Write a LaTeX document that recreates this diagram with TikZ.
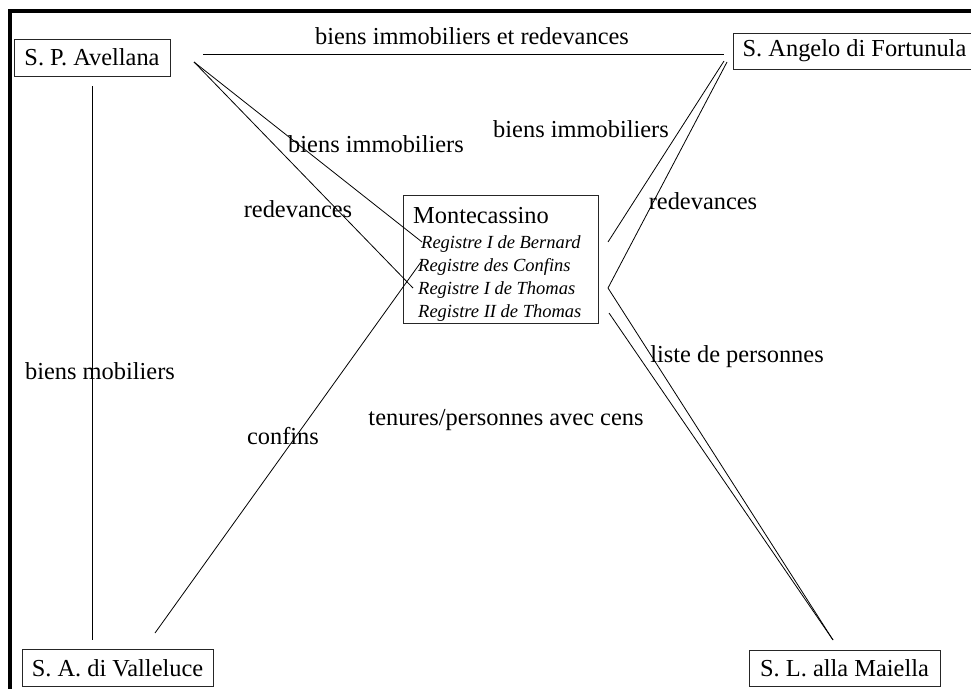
\documentclass[tikz,border=0pt]{standalone}
\usepackage{fontspec}
\setmainfont{Liberation Serif}
\begin{document}
\begin{tikzpicture}[x=1pt,y=-1pt,
  lbl/.style={inner sep=0pt,font=\fontsize{24.4}{29}\selectfont},
  house/.style={draw=black!85,line width=0.9pt,inner sep=0pt,font=\fontsize{24.4}{29}\selectfont},
  reg/.style={inner sep=0pt,anchor=base west,font=\fontsize{18.5}{22}\selectfont\itshape},
  link/.style={line width=0.8pt},
  frame/.style={line width=3.8pt}]
\useasboundingbox (0,0) rectangle (971,688);
\clip (0,0) rectangle (971,688);
% frame
\coordinate (fb) at (10,690);
\coordinate (fc) at (10,11);
\coordinate (fr) at (973,11);
\draw[frame] (fb) -- (fc) -- (fr);
% houses
\node[house,minimum width=156pt,minimum height=37pt] (spa) at (92,57.5) {S. P. Avellana};
\node[house,minimum width=243pt,minimum height=36pt] (sang) at (854.5,51) {S. Angelo di Fortunula};
\node[house,minimum width=191pt,minimum height=37.7pt] (sav) at (117.5,667.8) {S. A. di Valleluce};
\node[house,minimum width=191pt,minimum height=36.5pt] (slm) at (844.5,668.3) {S. L. alla Maiella};
% Montecassino
\node[house,minimum width=195pt,minimum height=128pt] (mc) at (500.5,259) {};
\node[lbl,anchor=base west] (mct) at (413,223) {Montecassino};
\node[reg] (r1) at (421,248) {Registre I de Bernard};
\node[reg] (r2) at (418,271) {Registre des Confins};
\node[reg] (r3) at (418,294) {Registre I de Thomas};
\node[reg] (r4) at (418,317) {Registre II de Thomas};
% connector ends
\coordinate (spaO) at (194,62);
\coordinate (r1L) at (422,242);
\coordinate (r3L) at (413,288);
\coordinate (r2L) at (421,262);
\coordinate (vT) at (92,86);
\coordinate (vB) at (92,640);
\coordinate (hL) at (203,54);
\coordinate (hR) at (724,54);
\coordinate (savO) at (155,633);
\coordinate (angA) at (724,61);
\coordinate (angB) at (727,62);
\coordinate (mcR1) at (608,242);
\coordinate (mcV) at (608,288);
\coordinate (mcR3) at (609,313);
\coordinate (slmO) at (833,640);
% connectors
\draw[link] (hL) -- (hR);
\draw[link] (spaO) -- (r1L);
\draw[link] (spaO) -- (r3L);
\draw[link] (vT) -- (vB);
\draw[link] (savO) -- (r2L);
\draw[link] (angA) -- (mcR1);
\draw[link] (angB) -- (mcV) -- (slmO);
\draw[link] (mcR3) -- (slmO);
% labels
\node[lbl] (l1) at (472,36) {biens immobiliers et redevances};
\node[lbl] (l2) at (376,144) {biens immobiliers};
\node[lbl] (l3) at (581,129) {biens immobiliers};
\node[lbl] (l4) at (298,209) {redevances};
\node[lbl] (l5) at (703,201) {redevances};
\node[lbl] (l6) at (737,357) {liste de personnes};
\node[lbl] (l7) at (506,420) {tenures/personnes avec cens};
\node[lbl] (l8) at (100,371) {biens mobiliers};
\node[lbl] (l9) at (283,436) {confins};
\end{tikzpicture}
\end{document}
